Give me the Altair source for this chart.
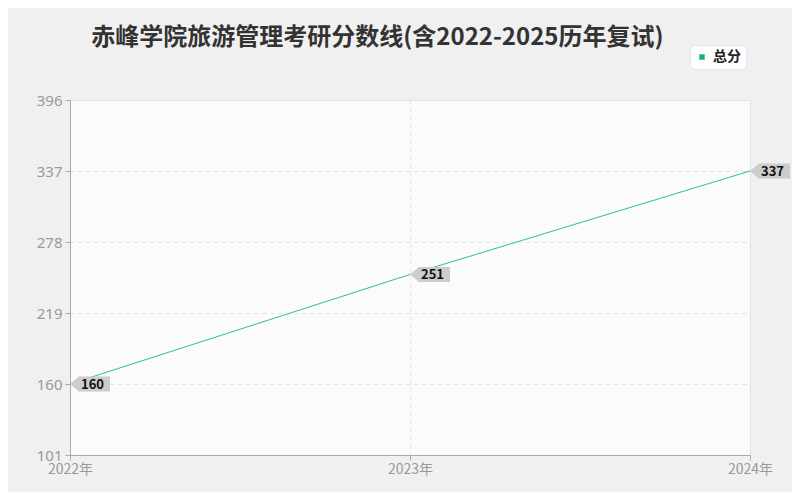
import altair as alt
import pandas as pd

years = ["2022年", "2023年", "2024年"]
scores = [160, 251, 337]
series = ["总分", "总分", "总分"]
y_ticks = [101, 160, 219, 278, 337, 396]

df = pd.DataFrame({"year": years, "score": scores, "series": series})

FONT = "Noto Sans CJK SC"
LINE = "#2fbf8f"

x_enc = alt.X("year:N", sort=years,
              scale=alt.Scale(type="point", padding=0),
              axis=alt.Axis(title=None, labelAngle=0, labelColor="#999999", labelFontSize=14,
                            labelFont=FONT, grid=True, gridDash=[4, 4], gridColor="#e3e3e3",
                            domainColor="#aaaaaa", tickColor="#aaaaaa", tickSize=5, labelPadding=2))
y_enc = alt.Y("score:Q",
              scale=alt.Scale(domain=[101, 396], nice=False, zero=False),
              axis=alt.Axis(title=None, values=y_ticks, labelColor="#999999", labelFontSize=15,
                            labelFont="Noto Sans", grid=True, gridDash=[4, 4], gridColor="#e3e3e3",
                            domainColor="#aaaaaa", tickColor="#aaaaaa", tickSize=5, labelPadding=3))

base = alt.Chart(df)

line = base.mark_line(strokeWidth=1).encode(
    x=x_enc, y=y_enc,
    color=alt.Color("series:N", scale=alt.Scale(range=[LINE]),
                    legend=alt.Legend(title=None, orient="none", legendX=620, legendY=-55,
                                      fillColor="white", cornerRadius=5, padding=5,
                                      strokeColor="#e6e6e6",
                                      symbolType="square", symbolSize=30,
                                      symbolFillColor="#1aaf7a", symbolStrokeColor="#1aaf7a",
                                      symbolStrokeWidth=0,
                                      labelFont=FONT, labelFontSize=14, labelFontWeight="bold",
                                      labelColor="#222222")),
)

callout = base.mark_point(
    shape="M -1 0 L -0.55 -0.375 L 1 -0.375 L 1 0.375 L -0.55 0.375 Z",
    size=1600, filled=True, color="#cccccc", opacity=1, xOffset=20,
).encode(x=x_enc, y=y_enc)

labels = base.mark_text(align="left", baseline="middle", dx=11, dy=0.5, font=FONT,
                        fontSize=13, fontWeight="bold", color="#111111").encode(
    x=x_enc, y=y_enc, text="score:Q")

chart = alt.layer(line, callout, labels).properties(
    width=680, height=355,
    title=alt.TitleParams("赤峰学院旅游管理考研分数线(含2022-2025历年复试)",
                          anchor="start", dx=55, offset=0, dy=5, font=FONT, fontSize=24,
                          fontWeight="bold", color="#333333"),
    autosize=alt.AutoSizeParams(type="none"),
    padding={"left": 62, "top": 92, "right": 42, "bottom": 37},
).configure(background="#f0f0f0").configure_view(fill="#fbfbfb", stroke="#e3e3e3")

chart.save("out.html", embed_options={"renderer": "svg", "actions": False})
